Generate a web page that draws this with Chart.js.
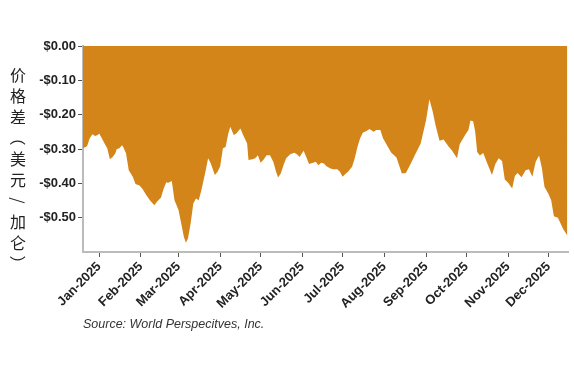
<!DOCTYPE html>
<html>
<head>
<meta charset="utf-8">
<script src="https://cdn.jsdelivr.net/npm/chart.js@4.4.1/dist/chart.umd.min.js"></script>
<style>
  html, body { margin: 0; padding: 0; background: #fff; }
  #wrap { position: relative; width: 574px; height: 367px; }
  #c { position: absolute; left: 0; top: 0; }
  #ytitle {
    position: absolute; left: 9px; top: 64px; width: 18px;
    font-family: "Noto Sans CJK SC", sans-serif;
    font-size: 16px; color: #222;
  }
  #ytitle span { display: block; height: 21px; line-height: 21px; text-align: center; }
  #ytitle span.rot { transform: rotate(90deg); }
  #source {
    position: absolute; left: 83px; top: 317px;
    font-family: "Liberation Sans", Arial, sans-serif;
    font-style: italic; font-size: 12.5px; color: #333;
  }
</style>
</head>
<body>
<div id="wrap">
  <canvas id="c" width="574" height="367"></canvas>
  <div id="ytitle" aria-label="价格差（美元/加仑）"></div>
  <div id="source">Source: World Perspecitves, Inc.</div>
</div>
<script>
// Days since 2025-01-01
const days = [-12,-9,-7,-5,-3,-1,0,2,4,6,8,10,12,13,15,17,18,20,22,25,27,30,32,35,38,41,43,46,48,50,51,54,56,59,61,63,64.5,66,68,70,72,74,76,79,81,83,86,88,90,92,94,96,97.5,100,102,105,107,110,111,114,116,118,120,122,124.5,127,129.5,131.5,133,135,137,139,142,145,147,149,151,152,154,156,159,161,163,165,167,169,172,174,177,179,181,183,185,188,190,192,194,196,199,201,204,206,209,211,217,221,225,228,231.5,235,239,243,245.5,248,250,253,256,260,262,266,268,272,274.5,276,278,279.5,281,283,285.5,288,292,294.5,297,299.5,301.5,304,307,309,311,314,317,319.5,322,324.5,327,329,331,334,336,338,341,343,345,348];
// Price spread, USD per gallon
const spread = [-0.298,-0.292,-0.269,-0.257,-0.262,-0.259,-0.255,-0.269,-0.284,-0.298,-0.330,-0.323,-0.313,-0.301,-0.298,-0.289,-0.295,-0.313,-0.362,-0.381,-0.402,-0.406,-0.415,-0.434,-0.451,-0.464,-0.454,-0.441,-0.415,-0.396,-0.399,-0.393,-0.449,-0.478,-0.517,-0.556,-0.573,-0.561,-0.517,-0.459,-0.444,-0.449,-0.420,-0.366,-0.327,-0.342,-0.376,-0.366,-0.350,-0.298,-0.294,-0.255,-0.235,-0.259,-0.255,-0.240,-0.259,-0.284,-0.332,-0.330,-0.327,-0.318,-0.340,-0.332,-0.318,-0.318,-0.338,-0.366,-0.383,-0.371,-0.347,-0.327,-0.315,-0.311,-0.315,-0.323,-0.311,-0.305,-0.324,-0.344,-0.340,-0.337,-0.347,-0.340,-0.342,-0.350,-0.357,-0.359,-0.359,-0.366,-0.381,-0.373,-0.366,-0.352,-0.327,-0.294,-0.269,-0.253,-0.247,-0.242,-0.250,-0.245,-0.245,-0.269,-0.310,-0.325,-0.371,-0.370,-0.344,-0.315,-0.284,-0.216,-0.155,-0.192,-0.230,-0.276,-0.272,-0.294,-0.303,-0.327,-0.286,-0.259,-0.245,-0.217,-0.219,-0.249,-0.309,-0.319,-0.312,-0.337,-0.376,-0.344,-0.327,-0.335,-0.389,-0.398,-0.415,-0.379,-0.370,-0.382,-0.362,-0.359,-0.381,-0.337,-0.319,-0.354,-0.410,-0.431,-0.449,-0.496,-0.500,-0.517,-0.534,-0.552];
// Month tick positions (days since 2025-01-01) and labels
const monthStartDays = [0,31,59,90,120,151,181,212,243,273,304,334];
const monthLabels = ['Jan-2025','Feb-2025','Mar-2025','Apr-2025','May-2025','Jun-2025','Jul-2025','Aug-2025','Sep-2025','Oct-2025','Nov-2025','Dec-2025'];
const yTickValues = [0,-0.1,-0.2,-0.3,-0.4,-0.5];
const yTitle = '价格差（美元/加仑）';

// Stack the y-axis title vertically (brackets and slash turned sideways, as in vertical text)
const yt = document.getElementById('ytitle');
for (const ch of yTitle) {
  const s = document.createElement('span');
  s.textContent = ch;
  if ('（）/'.includes(ch)) s.className = 'rot';
  yt.appendChild(s);
}

const points = days.map((d, i) => ({ x: d, y: spread[i] }));
const tickFont = { family: '"Liberation Sans", Arial, sans-serif', size: 13, weight: 'bold' };

new Chart(document.getElementById('c'), {
  type: 'line',
  data: {
    datasets: [{
      data: points,
      fill: 'origin',
      backgroundColor: '#D4851A',
      borderWidth: 0,
      pointRadius: 0,
      tension: 0
    }]
  },
  options: {
    responsive: false,
    animation: false,
    layout: { padding: { top: 46, right: 6, bottom: 0, left: 0 } },
    plugins: { legend: { display: false }, tooltip: { enabled: false } },
    scales: {
      x: {
        type: 'linear',
        min: -12,
        max: 348.5,
        afterBuildTicks: s => { s.ticks = monthStartDays.map(v => ({ value: v })); },
        afterFit: s => { s.height = 115; s.paddingRight = 0; s.paddingLeft = 0; },
        ticks: {
          autoSkip: false,
          minRotation: 45,
          maxRotation: 45,
          padding: 2,
          color: '#222',
          font: tickFont,
          callback: v => monthLabels[monthStartDays.indexOf(v)]
        },
        grid: { drawOnChartArea: false, drawTicks: true, tickLength: 5, color: '#555' },
        border: { color: '#bbb', width: 2 }
      },
      y: {
        min: -0.6,
        max: 0,
        afterBuildTicks: s => { s.ticks = yTickValues.map(v => ({ value: v })); },
        afterFit: s => { s.width = 83; },
        ticks: {
          padding: 2,
          color: '#222',
          font: tickFont,
          callback: v => (v === 0 ? '$0.00' : '-$' + Math.abs(v).toFixed(2))
        },
        grid: { drawOnChartArea: false, drawTicks: true, tickLength: 5, color: '#555' },
        border: { color: '#bbb', width: 2 }
      }
    }
  }
});
</script>
</body>
</html>
